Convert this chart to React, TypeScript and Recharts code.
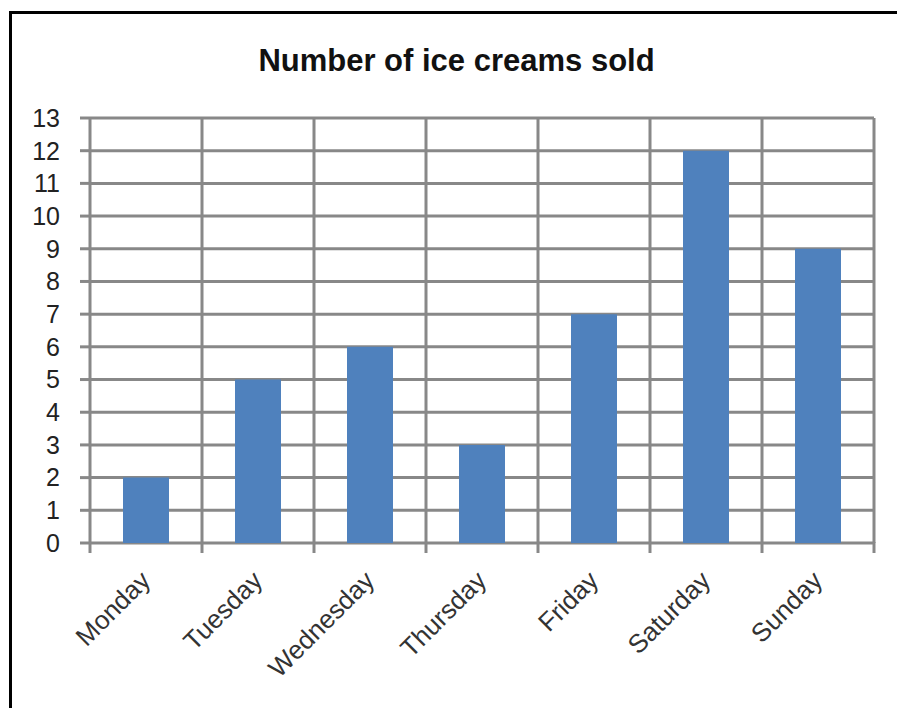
import { BarChart, Bar, XAxis, YAxis, CartesianGrid } from "recharts";

const days = ["Monday", "Tuesday", "Wednesday", "Thursday", "Friday", "Saturday", "Sunday"];
const sold = [2, 5, 6, 3, 7, 12, 9];
const yTicks = [0, 1, 2, 3, 4, 5, 6, 7, 8, 9, 10, 11, 12, 13];

const data = days.map((day, i) => ({ day, sold: sold[i] }));

const W = 897;
const H = 708;
const M = { top: 118, right: 23, left: 10, bottom: 80 };
const Y_W = 80;
const band = (W - M.left - M.right - Y_W) / days.length;

// category tick: boundary tick marks + rotated label
function DayTick({ x, y, payload, index }: any) {
  const ax = x + 6;
  const ay = y + 39;
  const left = x - band / 2;
  const right = x + band / 2;
  return (
    <g>
      <line x1={left} x2={left} y1={y - 1} y2={y + 10} stroke="#888" strokeWidth={3} />
      {index === days.length - 1 && (
        <line x1={right} x2={right} y1={y - 1} y2={y + 10} stroke="#888" strokeWidth={3} />
      )}
      <text
        x={ax}
        y={ay}
        textAnchor="end"
        transform={`rotate(-45, ${ax}, ${ay})`}
        fontSize={26}
        fontFamily="Liberation Sans, Arial, sans-serif"
        fill="#333"
      >
        {payload.value}
      </text>
    </g>
  );
}

export default function App() {
  return (
    <div style={{ position: "absolute", left: 0, top: 0, width: W, height: H, background: "#fff", overflow: "hidden" }}>
      {/* frame, only left and top edges are visible */}
      <div
        style={{
          position: "absolute",
          left: 9,
          top: 11,
          width: 2000,
          height: 2000,
          borderLeft: "3px solid #000",
          borderTop: "3px solid #000",
        }}
      />
      <div
        style={{
          position: "absolute",
          left: 0,
          width: 913,
          top: 43,
          textAlign: "center",
          fontFamily: "Liberation Sans, Arial, sans-serif",
          fontWeight: "bold",
          fontSize: 31,
          lineHeight: "36px",
          color: "#111",
        }}
      >
        Number of ice creams sold
      </div>
      <div style={{ position: "absolute", left: 0, top: 0 }}>
        <BarChart width={W} height={H} data={data} margin={M}>
          <CartesianGrid
            stroke="#888"
            strokeWidth={3}
            verticalCoordinatesGenerator={({ offset }: any) =>
              days.map((_, i) => offset.left + i * band).concat(offset.left + offset.width)
            }
          />
          <XAxis
            dataKey="day"
            height={85}
            axisLine={false}
            tickLine={false}
            tickSize={0}
            tickMargin={0}
            interval={0}
            tick={<DayTick />}
          />
          <YAxis
            width={Y_W}
            domain={[0, 13]}
            ticks={yTicks}
            interval={0}
            axisLine={false}
            tickLine={{ stroke: "#888", strokeWidth: 3 }}
            tickSize={10}
            tickMargin={20}
            tick={{ fontSize: 25, fill: "#222", fontFamily: "Liberation Sans, Arial, sans-serif" }}
          />
          <Bar dataKey="sold" fill="#4F81BD" barSize={46} isAnimationActive={false} />
        </BarChart>
      </div>
    </div>
  );
}
